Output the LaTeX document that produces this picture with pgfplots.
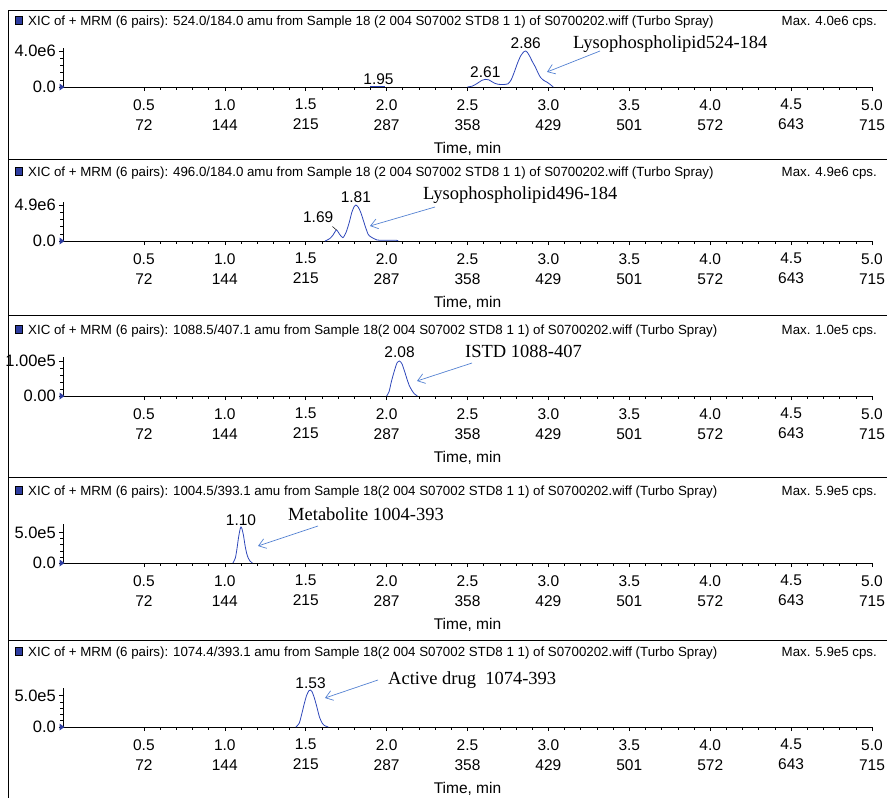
\documentclass[border=0pt]{standalone}
\usepackage{fontspec}
\setmainfont{Liberation Sans}
\newfontfamily\annfont{Liberation Serif}
\usepackage{pgfplots}
\pgfplotsset{compat=1.18}
\usetikzlibrary{arrows.meta}

\definecolor{trace}{RGB}{45,70,185}
\definecolor{callout}{RGB}{85,130,210}
\definecolor{chip}{RGB}{45,60,160}

\newcommand\hdrfont{\fontsize{13.3}{16}\selectfont}
\newcommand\tickfont{\fontsize{15.5}{20}\selectfont}
\newcommand\ytickfont{\fontsize{16.5}{20}\selectfont}
\newcommand\annsize{\annfont\fontsize{18.5}{22}\selectfont}

% channel header: #1 = vertical centre (pt below top), #2 = description, #3 = max intensity
\newcommand\xichdr[3]{%
  \begin{scope}[yshift=-#1pt]
    \fill[chip, draw=black, line width=0.3pt] (15pt,-3pt) rectangle (22pt,4.5pt);
    \node[anchor=base west, inner sep=0pt, font=\hdrfont] at (28pt,-4.8pt) {#2};
    \node[anchor=base east, inner sep=0pt, font=\hdrfont] at (877pt,-4.8pt) {Max. #3 cps.};
  \end{scope}}

% small pointer that marks the intensity origin of each trace
\newcommand\originpointer{%
  \fill[chip] (axis cs:0,0) ++(-3.5pt,3.5pt) -- ++(5pt,-3.5pt) -- ++(-5pt,-3.5pt) -- cycle;}

\tikzset{
  peaklabel/.style={font=\tickfont, anchor=base, inner sep=0pt},
  callarrow/.style={callout, line width=0.7pt, -{Straight Barb[length=7pt,width=10pt]}},
  annlabel/.style={anchor=base west, inner sep=0pt, font=\annsize},
}

\pgfplotsset{
  xicpanel/.style={
    scale only axis, width=809pt,
    xmin=0, xmax=5, ymin=0,
    axis x line*=bottom, axis y line*=left,
    axis line style={black, line width=0.9pt, -},
    xtick={0.5,1,1.5,2,2.5,3,3.5,4,4.5,5},
    xticklabels={{0.5\\72},{1.0\\144},{1.5\\215},{2.0\\287},{2.5\\358},{3.0\\429},{3.5\\501},{4.0\\572},{4.5\\643},{5.0\\715}},
    minor x tick num=4,
    minor y tick num=4,
    tick align=outside,
    major tick length=4pt, minor tick length=2.5pt,
    tick style={black, line width=0.6pt},
    xticklabel style={font=\tickfont, align=center, inner sep=0pt, anchor=north, yshift=-8pt},
    yticklabel style={font=\ytickfont, inner sep=0pt, anchor=east, xshift=-3pt},
    xlabel={Time, min},
    xlabel style={font=\tickfont, at={(axis description cs:0.5,0)}, anchor=base, yshift=-66pt, inner sep=0pt},
    clip=false,
  },
  xictrace/.style={color=trace, line width=0.8pt, smooth, tension=0.4},
}

\begin{document}
\begin{tikzpicture}
\useasboundingbox (0,0) rectangle (887pt,-798pt);

% outline and panel separators
\draw[line width=0.9pt] (8pt,-10pt) -- (887pt,-10pt);
\draw[line width=0.9pt] (8pt,-159pt) -- (887pt,-159pt);
\draw[line width=0.9pt] (8pt,-315pt) -- (887pt,-315pt);
\draw[line width=0.9pt] (8pt,-477pt) -- (887pt,-477pt);
\draw[line width=0.9pt] (8pt,-640pt) -- (887pt,-640pt);
\draw[line width=0.9pt] (8pt,-10pt) -- (8pt,-798pt);

% ---------- 524.0/184.0 ----------
\xichdr{21}{XIC of + MRM (6 pairs): 524.0/184.0 amu from Sample 18 (2 004 S07002 STD8 1 1) of S0700202.wiff (Turbo Spray)}{4.0e6}
\begin{axis}[xicpanel, at={(63pt,-87pt)}, anchor=south west,
  height=39.15pt, ymax=4.35, ytick={0,4.0}, yticklabels={0.0,4.0e6}]
  \addplot[xictrace] coordinates {(1.90,0.1) (1.99,0.1)};
  \addplot[xictrace] coordinates {
    (2.50,0) (2.53,0.1) (2.56,0.4) (2.59,0.75) (2.61,0.85) (2.63,0.8) (2.65,0.6)
    (2.67,0.4) (2.69,0.3) (2.72,0.28) (2.75,0.35) (2.77,0.8) (2.79,1.7) (2.81,2.7)
    (2.83,3.5) (2.85,3.95) (2.86,4.0) (2.87,3.85) (2.885,3.4) (2.90,2.85) (2.92,2.2)
    (2.935,1.6) (2.95,1.1) (2.97,0.75) (2.99,0.55) (3.01,0.3) (3.03,0)};
  \originpointer
  \node[peaklabel, yshift=2pt] at (axis cs:1.95,0.1) {1.95};
  \node[peaklabel, yshift=2pt] at (axis cs:2.61,0.85) {2.61};
  \node[peaklabel, yshift=3pt] at (axis cs:2.86,4.0) {2.86};
\end{axis}
\node[annlabel] at (573pt,-48pt) {Lysophospholipid524-184};
\draw[callarrow] (600pt,-51pt) -- (547pt,-72pt);

% ---------- 496.0/184.0 ----------
\xichdr{172}{XIC of + MRM (6 pairs): 496.0/184.0 amu from Sample 18 (2 004 S07002 STD8 1 1) of S0700202.wiff (Turbo Spray)}{4.9e6}
\begin{axis}[xicpanel, at={(63pt,-241pt)}, anchor=south west,
  height=39.3pt, ymax=5.35, ytick={0,4.9}, yticklabels={0.0,4.9e6}]
  \addplot[xictrace] coordinates {
    (1.62,0) (1.65,0.35) (1.67,0.85) (1.69,1.5) (1.71,0.9) (1.73,0.45) (1.75,1.2)
    (1.77,2.6) (1.785,3.9) (1.80,4.7) (1.81,4.9) (1.825,4.6) (1.84,3.9) (1.855,2.9)
    (1.865,2.2) (1.885,0.95) (1.90,0.6) (1.915,0.4) (1.94,0.15) (1.97,0.1)
    (2.06,0.1) (2.07,0)};
  \originpointer
  \node[font=\tickfont, anchor=base east, inner sep=0pt, xshift=-3pt, yshift=7pt] at (axis cs:1.69,1.5) {1.69};
  \draw[black, line width=0.5pt] (axis cs:1.69,1.5) -- ++(-4pt,3.5pt);
  \node[peaklabel, yshift=3pt] at (axis cs:1.81,4.9) {1.81};
\end{axis}
\node[annlabel] at (423pt,-199pt) {Lysophospholipid496-184};
\draw[callarrow] (435pt,-207pt) -- (370pt,-226pt);

% ---------- 1088.5/407.1 ----------
\xichdr{330}{XIC of + MRM (6 pairs): 1088.5/407.1 amu from Sample 18(2 004 S07002 STD8 1 1) of S0700202.wiff (Turbo Spray)}{1.0e5}
\begin{axis}[xicpanel, at={(63pt,-396pt)}, anchor=south west,
  height=39.2pt, ymax=1.12, ytick={0,1.0}, yticklabels={0.00,1.00e5}]
  \addplot[xictrace] coordinates {
    (2.00,0) (2.015,0.12) (2.03,0.42) (2.05,0.75) (2.065,0.95) (2.08,1.0) (2.095,0.92)
    (2.11,0.72) (2.125,0.5) (2.14,0.3) (2.155,0.17) (2.17,0.07) (2.19,0)};
  \originpointer
  \node[peaklabel, yshift=4pt] at (axis cs:2.08,1.0) {2.08};
\end{axis}
\node[annlabel] at (465pt,-357pt) {ISTD 1088-407};
\draw[callarrow] (472pt,-363pt) -- (417pt,-381pt);

% ---------- 1004.5/393.1 ----------
\xichdr{491}{XIC of + MRM (6 pairs): 1004.5/393.1 amu from Sample 18(2 004 S07002 STD8 1 1) of S0700202.wiff (Turbo Spray)}{5.9e5}
\begin{axis}[xicpanel, at={(63pt,-563pt)}, anchor=south west,
  height=39.05pt, ymax=6.4, ytick={0,5.0}, yticklabels={0.0,5.0e5}]
  \addplot[xictrace] coordinates {
    (1.05,0) (1.065,0.8) (1.075,2.3) (1.085,4.2) (1.095,5.6) (1.10,5.9) (1.105,5.7)
    (1.115,4.6) (1.125,2.9) (1.135,1.6) (1.145,0.8) (1.155,0.35) (1.17,0)};
  \originpointer
  \node[peaklabel, yshift=1.5pt] at (axis cs:1.10,5.9) {1.10};
\end{axis}
\node[annlabel] at (288pt,-520pt) {Metabolite 1004-393};
\draw[callarrow] (318pt,-526pt) -- (258pt,-546pt);

% ---------- 1074.4/393.1 ----------
\xichdr{652}{XIC of + MRM (6 pairs): 1074.4/393.1 amu from Sample 18(2 004 S07002 STD8 1 1) of S0700202.wiff (Turbo Spray)}{5.9e5}
\begin{axis}[xicpanel, at={(63pt,-727pt)}, anchor=south west,
  height=39.5pt, ymax=6.3, ytick={0,5.0}, yticklabels={0.0,5.0e5}]
  \addplot[xictrace] coordinates {
    (1.44,0) (1.46,0.6) (1.475,2.0) (1.49,3.6) (1.505,5.0) (1.52,5.8) (1.53,5.9)
    (1.54,5.6) (1.555,4.5) (1.57,3.1) (1.585,1.6) (1.60,0.7) (1.615,0.25) (1.63,0.08) (1.64,0)};
  \originpointer
  \node[peaklabel, yshift=2pt] at (axis cs:1.53,5.9) {1.53};
\end{axis}
\node[annlabel] at (388pt,-684pt) {Active drug\ \ 1074-393};
\draw[callarrow] (378pt,-680pt) -- (325pt,-698pt);

\end{tikzpicture}
\end{document}
